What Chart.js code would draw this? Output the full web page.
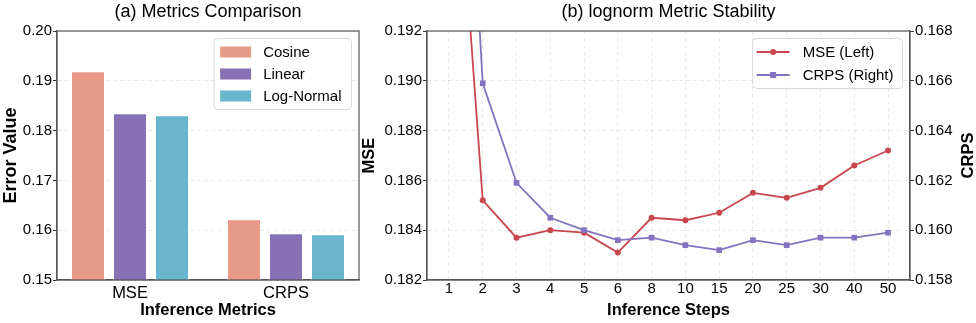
<!DOCTYPE html>
<html><head><meta charset="utf-8">
<script src="https://cdn.jsdelivr.net/npm/chart.js@4.4.1/dist/chart.umd.min.js"></script>
<style>
html,body{margin:0;padding:0;background:#fff;overflow:hidden;width:976px;height:323px;}
canvas{position:absolute;top:0;}
#ca{left:0;} #cb{left:356px;}
</style></head>
<body>
<canvas id="ca" width="362" height="323"></canvas>
<canvas id="cb" width="620" height="323"></canvas>
<script>
// ---- Data ----
const metrics = ['MSE', 'CRPS'];
const schedules = ['Cosine', 'Linear', 'Log-Normal'];
const cosineVals = [0.1919, 0.1622];
const linearVals = [0.1835, 0.1594];
const lognormalVals = [0.1831, 0.1592];

const steps = ['1', '2', '3', '4', '5', '6', '8', '10', '15', '20', '25', '30', '40', '50'];
const mseVals = [0.2040, 0.1852, 0.1837, 0.1840, 0.1839, 0.1831, 0.1845, 0.1844, 0.1847, 0.1855, 0.1853, 0.1857, 0.1866, 0.1872];
const crpsVals = [0.1895, 0.1659, 0.1619, 0.1605, 0.1600, 0.1596, 0.1597, 0.1594, 0.1592, 0.1596, 0.1594, 0.1597, 0.1597, 0.1599];

// ---- Styling ----
const FONT = "'Liberation Sans', Arial, Helvetica, sans-serif";
Chart.defaults.font.family = FONT;
Chart.defaults.color = '#000';
Chart.defaults.animation = false;

const barColors = ['#E89A89', '#8571B3', '#69B5CD'];
const lineColors = ['#C8474F', '#8472C0'];
const gridColor = 'rgba(0,0,0,0.09)';
const axisColor = '#555';

const framePlugin = {
  id: 'frame',
  afterDraw(chart) {
    const {ctx, chartArea: a} = chart;
    ctx.save();
    ctx.strokeStyle = axisColor;
    ctx.lineWidth = 1.2;
    ctx.strokeRect(a.left, a.top, a.right - a.left, a.bottom - a.top);
    ctx.restore();
  }
};

const insideLegend = {
  id: 'insideLegend',
  afterDraw(chart, args, o) {
    if (!o || !o.show) return;
    const {ctx, chartArea} = chart;
    ctx.save();
    ctx.font = o.fontSize + 'px ' + FONT;
    const labels = chart.data.datasets.map(d => d.label);
    const tw = Math.max(...labels.map(t => ctx.measureText(t).width));
    const w = o.padL + o.sample + o.gap + tw + o.padR;
    const h = o.rowH * labels.length + o.padV * 2;
    const x = chartArea.right - o.inset - w;
    const y = chartArea.top + o.inset;
    ctx.beginPath();
    ctx.roundRect(x, y, w, h, 4);
    ctx.fillStyle = 'rgba(255,255,255,0.85)';
    ctx.fill();
    ctx.strokeStyle = '#d9d9d9';
    ctx.lineWidth = 1;
    ctx.stroke();
    chart.data.datasets.forEach((ds, i) => {
      const cy = y + o.padV + o.rowH * (i + 0.5);
      const sx = x + o.padL;
      if (o.kind === 'bar') {
        ctx.fillStyle = ds.backgroundColor;
        ctx.fillRect(sx, cy - 5.5, o.sample, 11);
      } else {
        ctx.strokeStyle = ds.borderColor;
        ctx.lineWidth = 1.8;
        ctx.beginPath();
        ctx.moveTo(sx, cy); ctx.lineTo(sx + o.sample, cy);
        ctx.stroke();
        ctx.fillStyle = ds.borderColor;
        const mx = sx + o.sample / 2;
        if (ds.pointStyle === 'rect') {
          ctx.fillRect(mx - 3, cy - 3, 6, 6);
        } else {
          ctx.beginPath(); ctx.arc(mx, cy, 3, 0, Math.PI * 2); ctx.fill();
        }
      }
      ctx.fillStyle = '#000';
      ctx.textBaseline = 'middle';
      ctx.textAlign = 'left';
      ctx.fillText(ds.label, sx + o.sample + o.gap, cy + 0.5);
    });
    ctx.restore();
  }
};

const rightTitle = {
  id: 'rightTitle',
  afterDraw(chart, args, o) {
    if (!o || !o.text) return;
    const {ctx, chartArea: a} = chart;
    ctx.save();
    ctx.translate(o.x, (a.top + a.bottom) / 2);
    ctx.rotate(-Math.PI / 2);
    ctx.font = 'bold ' + o.fontSize + 'px ' + FONT;
    ctx.fillStyle = '#000';
    ctx.textAlign = 'center';
    ctx.textBaseline = 'middle';
    ctx.fillText(o.text, 0, 0);
    ctx.restore();
  }
};

Chart.register(framePlugin, insideLegend, rightTitle);

// ---- Panel (a) ----
const barSeries = [cosineVals, linearVals, lognormalVals];
new Chart(document.getElementById('ca'), {
  type: 'bar',
  data: {
    datasets: schedules.map((s, k) => ({
      label: s,
      data: barSeries[k].map((v, i) => ({x: i, y: v})),
      backgroundColor: barColors[k],
      borderColor: 'rgba(255,255,255,0.8)',
      borderWidth: 1,
      categoryPercentage: 0.8077,
      barPercentage: 0.81
    }))
  },
  options: {
    responsive: false,
    devicePixelRatio: 1,
    layout: {padding: {left: 0, right: 3, top: 0, bottom: 0}},
    plugins: {
      legend: {display: false},
      tooltip: {enabled: false},
      title: {display: true, text: '(a) Metrics Comparison', fullSize: false,
        font: {size: 18, weight: 'normal'}, padding: {top: 1, bottom: 8.4}, color: '#000'},
      insideLegend: {show: true, kind: 'bar', fontSize: 15, padL: 6, sample: 31, gap: 12, padR: 10, rowH: 22, padV: 2.5, inset: 7.5}
    },
    scales: {
      x: {
        type: 'linear', min: -0.468, max: 1.468, offset: false,
        afterFit(s) { s.height = 43; },
        grid: {display: false, drawTicks: false, offset: false},
        border: {display: true, color: axisColor, width: 1.2},
        ticks: {stepSize: 1, includeBounds: false, padding: 4, font: {size: 16.5},
          callback: v => metrics[v] !== undefined && Number.isInteger(v) ? metrics[v] : ''},
        title: {display: true, text: 'Inference Metrics', font: {size: 16.5, weight: 'bold'}, padding: {top: 0, bottom: 3}}
      },
      y: {
        min: 0.15, max: 0.20,
        afterFit(s) { s.width = 57; },
        grid: {color: gridColor, drawTicks: true, tickLength: 4, tickColor: '#333', tickWidth: 1, tickBorderDash: []},
        border: {display: true, color: axisColor, width: 1.2, dash: [4, 3]},
        ticks: {stepSize: 0.01, padding: 1, font: {size: 15}, callback: v => v.toFixed(2)},
        title: {display: true, text: 'Error Value', font: {size: 18, weight: 'bold'}, padding: {top: 0, bottom: 0}}
      }
    }
  }
});

// ---- Panel (b) ----
new Chart(document.getElementById('cb'), {
  type: 'line',
  data: {
    datasets: [
      {label: 'MSE (Left)', data: mseVals.map((v, i) => ({x: i, y: v})), yAxisID: 'y',
        borderColor: lineColors[0], backgroundColor: lineColors[0], borderWidth: 1.8,
        pointStyle: 'circle', pointRadius: 3, pointBorderWidth: 0, order: 1, tension: 0},
      {label: 'CRPS (Right)', data: crpsVals.map((v, i) => ({x: i, y: v})), yAxisID: 'y1',
        borderColor: lineColors[1], backgroundColor: lineColors[1], borderWidth: 1.8,
        pointStyle: 'rect', pointRadius: 4, pointBorderWidth: 0, order: 0, tension: 0}
    ]
  },
  options: {
    responsive: false,
    devicePixelRatio: 1,
    layout: {padding: {left: 0, right: 0, top: 0, bottom: 0}},
    plugins: {
      legend: {display: false},
      tooltip: {enabled: false},
      title: {display: true, text: '(b) lognorm Metric Stability', fullSize: false,
        font: {size: 18, weight: 'normal'}, padding: {top: 1, bottom: 8.4}, color: '#000'},
      insideLegend: {show: true, kind: 'line', fontSize: 15, padL: 4, sample: 33, gap: 13, padR: 9, rowH: 23, padV: 2, inset: 7.5},
      rightTitle: {text: 'CRPS', fontSize: 16.5, x: 612}
    },
    scales: {
      x: {
        type: 'linear', min: -0.65, max: 13.65,
        afterFit(s) { s.height = 43; },
        grid: {color: gridColor, drawTicks: false},
        border: {display: true, color: axisColor, width: 1.2, dash: [4, 3]},
        ticks: {stepSize: 1, includeBounds: false, padding: 0, font: {size: 15},
          callback: v => Number.isInteger(v) && steps[v] !== undefined ? steps[v] : ''},
        title: {display: true, text: 'Inference Steps', font: {size: 16.5, weight: 'bold'}, padding: {top: 0, bottom: 3}}
      },
      y: {
        position: 'left', min: 0.182, max: 0.192,
        afterFit(s) { s.width = 71; },
        grid: {color: gridColor, drawTicks: true, tickLength: 4, tickColor: '#333', tickWidth: 1, tickBorderDash: []},
        border: {display: true, color: axisColor, width: 1.2, dash: [4, 3]},
        ticks: {stepSize: 0.002, padding: 1, font: {size: 15}, callback: v => v.toFixed(3)},
        title: {display: true, text: 'MSE', font: {size: 16.5, weight: 'bold'}, padding: {top: 4, bottom: 0}}
      },
      y1: {
        position: 'right', min: 0.158, max: 0.168,
        afterFit(s) { s.width = 66; },
        grid: {drawOnChartArea: false, drawTicks: true, tickLength: 4, tickColor: '#333', tickWidth: 1, tickBorderDash: []},
        border: {display: true, color: axisColor, width: 1.2},
        ticks: {stepSize: 0.002, padding: 1, font: {size: 15}, callback: v => v.toFixed(3)},
        title: {display: false}
      }
    }
  }
});
</script>
</body></html>
